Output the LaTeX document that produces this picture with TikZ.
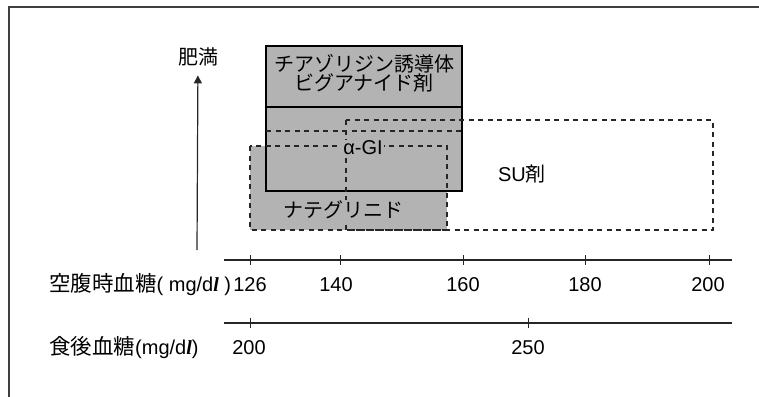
\documentclass[tikz,border=0pt]{standalone}
\usepackage{fontspec}
\setmainfont{Liberation Sans}
\newfontfamily\jp{Noto Sans CJK JP}
\newfontfamily\lserif{Liberation Serif}
\usetikzlibrary{arrows.meta}
\definecolor{boxgray}{RGB}{179,179,179}
\definecolor{framegray}{RGB}{64,64,64}
\tikzset{
  dashline/.style={line width=1.3pt, dash pattern=on 5pt off 4.5pt, black!85},
  solidbox/.style={line width=1.8pt, fill=boxgray, draw=black},
  axisline/.style={line width=1.2pt, black!85},
  lbl/.style={inner sep=0pt, font=\fontsize{20}{20}\selectfont},
  masked/.style={fill=boxgray, inner xsep=1.5pt, inner ysep=1pt},
}
\newcommand{\bigjp}{\jp\fontsize{21.5}{21.5}\selectfont}
\begin{document}
\begin{tikzpicture}[x=1pt,y=-1pt]
\useasboundingbox (0,0) rectangle (759,396);
\clip (0,0) rectangle (759,396);
% outer frame (cropped at right and bottom)
\draw[framegray, line width=1.2pt] (9,420) -- (9,7) -- (790,7);

% Nateglinide fill
\fill[boxgray] (250,146) rectangle (447,230);
% Thiazolidine / biguanide solid box
\draw[solidbox] (266,46) rectangle (462,191);
\draw[line width=1.3pt] (266,107) -- (462,107);
% dashed boxes
\draw[dashline] (266,131) -- (462,131);
\draw[dashline] (250,146) rectangle (447,230);
\draw[dashline] (346,120) rectangle (713,230);

% texts in boxes
\node[lbl, align=center] (tzd) at (364,73) {\jp チアゾリジン誘導体\\[-1pt]\jp ビグアナイド剤};
\node[lbl, masked] (agi) at (363,148) {α-GI};
\node[lbl, masked] (nateg) at (343,210) {\jp ナテグリニド};
\node[lbl] (su) at (522,174) {SU{\jp 剤}};

% obesity axis
\node[lbl] (fat) at (198,57) {\jp 肥満};
\coordinate (abot) at (197,250);
\draw[axisline, -{Triangle[width=8pt,length=8pt]}, shorten >=9pt] (abot) -- (fat);

% fasting glucose axis
\coordinate (f0) at (224,260);
\coordinate (f1) at (732,260);
\draw[axisline] (f0) -- (f1);
\foreach \x in {250, 340, 463, 585, 709}{
  \draw[axisline, line width=1pt] (\x,255) -- (\x,265);
}
\node[lbl] (t126) at (250,285) {126};
\node[lbl] (t140) at (336,285) {140};
\node[lbl] (t160) at (463,285) {160};
\node[lbl] (t180) at (585,285) {180};
\node[lbl] (t200) at (708,285) {200};
\node[lbl, anchor=west] (fpg) at (49,285) {{\bigjp 空腹時血糖}( mg/d{\lserif\bfseries\itshape l} )};

% postprandial glucose axis
\coordinate (p0) at (224,323);
\coordinate (p1) at (732,323);
\draw[axisline] (p0) -- (p1);
\draw[axisline, line width=1pt] (250,318) -- (250,328);
\draw[axisline, line width=1pt] (528,318) -- (528,328);
\node[lbl] (p200) at (249,348) {200};
\node[lbl] (p250) at (528,348) {250};
\node[lbl, anchor=west] (ppg) at (49,348) {{\bigjp 食後血糖}(mg/d{\lserif\bfseries\itshape l})};
\end{tikzpicture}
\end{document}
